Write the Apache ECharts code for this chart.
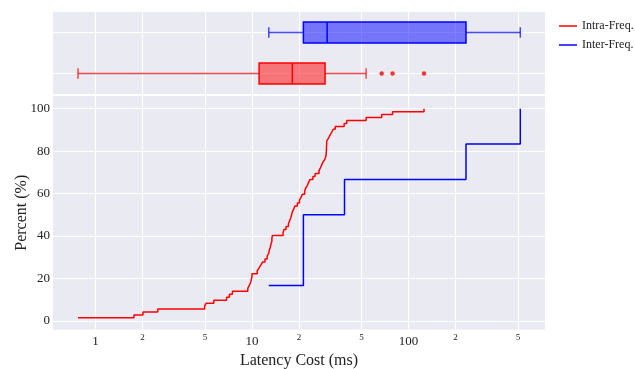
<!DOCTYPE html>
<html>
<head>
<meta charset="utf-8">
<script src="https://cdn.jsdelivr.net/npm/echarts@6/dist/echarts.min.js"></script>
<style>
    html, body {margin: 0; padding: 0; background: #fff;}
    #chart {width: 635px; height: 369px;}
</style>
</head>
<body>
<div id="chart"></div>
<script>
// latency samples (ms)
var intraSamples = [
    0.773, 1.76, 2.01, 2.5, 4.98, 5.1, 5.7, 6.88, 7.17, 7.5,
    9.4, 9.6, 9.8, 9.9, 10.0, 10.0, 10.8, 11.1, 11.4, 11.7,
    12.1, 12.5, 12.8, 12.9, 13.1, 13.2, 13.4, 13.4, 13.5, 15.8,
    16.0, 16.5, 17.1, 17.4, 17.7, 17.9, 18.1, 18.5, 18.8, 19.5,
    20.1, 20.6, 21.0, 21.7, 22.0, 22.6, 23.0, 23.5, 24.5, 25.3,
    26.8, 27.4, 27.9, 28.5, 29.3, 29.7, 29.8, 29.9, 29.9, 30.0,
    30.0, 30.8, 31.5, 32.3, 33.0, 34.0, 38.8, 40.3, 53.6, 67.4,
    79.1, 125.6
];
var interSamples = [12.8, 21.3, 21.3, 39.0, 233, 518];

// box stats: [row, min, q1, median, q3, max]
var boxIntra = [0, 0.773, 11.1, 18.1, 29.3, 53.6];
var boxInter = [1, 12.8, 21.3, 30.2, 233, 518];
var outliersIntra = [67.4, 79.1, 125.6];

var xTicks = [1, 2, 5, 10, 20, 50, 100, 200, 500];
var yTicks = [0, 20, 40, 60, 80, 100];

var RED = '#ff0000';
var BLUE = '#0000ff';
var BG = '#eaeaf2';
var FONT = 'Liberation Serif';

function ecdf(arr) {
    var s = arr.slice().sort(function (a, b) { return a - b; });
    var out = [];
    for (var i = 0; i < s.length; i++) {
        out.push([s[i], (i + 1) / s.length * 100]);
    }
    return out;
}

function renderBox(params, api) {
    var row = api.value(0);
    var col = params.dataIndex === 0 ? RED : BLUE;
    var fill = params.dataIndex === 0 ? 'rgba(255,0,0,0.5)' : 'rgba(0,0,255,0.5)';
    var pt = function (v, dy) { return api.coord([v, row + (dy || 0)]); };
    var lo = pt(api.value(1)), q1 = pt(api.value(2)), md = pt(api.value(3)),
        q3 = pt(api.value(4)), hi = pt(api.value(5));
    var h = Math.abs(pt(api.value(3), 0.255)[1] - pt(api.value(3), -0.255)[1]);
    var cy = lo[1];
    var st = {stroke: col, lineWidth: 1.5, opacity: 0.7};
    return {
        type: 'group',
        children: [
            {type: 'line', shape: {x1: lo[0], y1: cy, x2: q1[0], y2: cy}, style: st},
            {type: 'line', shape: {x1: q3[0], y1: cy, x2: hi[0], y2: cy}, style: st},
            {type: 'line', shape: {x1: lo[0], y1: cy - h / 4, x2: lo[0], y2: cy + h / 4}, style: st},
            {type: 'line', shape: {x1: hi[0], y1: cy - h / 4, x2: hi[0], y2: cy + h / 4}, style: st},
            {type: 'rect', shape: {x: q1[0], y: cy - h / 2, width: q3[0] - q1[0], height: h},
                style: {fill: fill, stroke: col, lineWidth: 1.5}},
            {type: 'line', shape: {x1: md[0], y1: cy - h / 2, x2: md[0], y2: cy + h / 2},
                style: {stroke: col, lineWidth: 1.5}}
        ]
    };
}

var chart = echarts.init(document.getElementById('chart'));

var xSplit = {show: true, lineStyle: {color: '#ffffff', width: 1}};

chart.setOption({
    backgroundColor: '#ffffff',
    animation: false,
    textStyle: {fontFamily: FONT},
    legend: {
        data: ['Intra-Freq.', 'Inter-Freq.'],
        orient: 'vertical',
        left: 554,
        top: 15,
        icon: 'rect',
        itemWidth: 18,
        itemHeight: 1.5,
        itemGap: 7,
        textStyle: {fontFamily: FONT, fontSize: 12, color: '#222'}
    },
    grid: [
        {left: 53, right: 90, top: 12, height: 82, outerBoundsMode: 'none',
            show: true, backgroundColor: BG, borderWidth: 0},
        {left: 53, right: 90, top: 96, bottom: 39.5, outerBoundsMode: 'none',
            show: true, backgroundColor: BG, borderWidth: 0}
    ],
    xAxis: [
        {
            gridIndex: 0, type: 'log', min: 0.535, max: 745,
            axisLine: {show: false},
            axisTick: {show: false, customValues: xTicks},
            axisLabel: {show: false},
            splitLine: xSplit
        },
        {
            gridIndex: 1, type: 'log', min: 0.535, max: 745,
            name: 'Latency Cost (ms)', nameLocation: 'middle', nameGap: 23,
            nameMoveOverlap: false,
            nameTextStyle: {fontFamily: FONT, fontSize: 16, color: '#222'},
            axisLine: {show: false},
            axisTick: {show: false, customValues: xTicks},
            axisLabel: {
                customValues: xTicks,
                margin: 3,
                formatter: function (v) {
                    var r = Math.round(v);
                    if (r === 1 || r === 10 || r === 100) return '{b|' + r + '}';
                    return '{s|' + String(r).charAt(0) + '}';
                },
                rich: {
                    b: {fontFamily: FONT, fontSize: 13, color: '#222', padding: [3, 0, 0, 0]},
                    s: {fontFamily: FONT, fontSize: 9, color: '#222', padding: [1, 0, 0, 0]}
                }
            },
            splitLine: xSplit
        }
    ],
    yAxis: [
        {
            gridIndex: 0, type: 'value', min: -0.5, max: 1.5,
            axisLine: {show: false},
            axisTick: {show: false, customValues: [0, 1]},
            axisLabel: {show: false},
            splitLine: {show: true, lineStyle: {color: '#ffffff', width: 1}}
        },
        {
            gridIndex: 1, type: 'value', min: -4.1, max: 106,
            name: 'Percent (%)', nameLocation: 'middle', nameGap: 23,
            nameMoveOverlap: false,
            nameTextStyle: {fontFamily: FONT, fontSize: 16, color: '#222'},
            axisLine: {show: false},
            axisTick: {show: false, customValues: yTicks},
            axisLabel: {customValues: yTicks, margin: 3, fontFamily: FONT, fontSize: 13, color: '#222'},
            splitLine: {show: true, lineStyle: {color: '#ffffff', width: 1}}
        }
    ],
    series: [
        {
            name: 'Intra-Freq.', type: 'line', xAxisIndex: 1, yAxisIndex: 1,
            step: 'end', showSymbol: false, color: RED,
            lineStyle: {width: 1.5, color: RED},
            data: ecdf(intraSamples)
        },
        {
            name: 'Inter-Freq.', type: 'line', xAxisIndex: 1, yAxisIndex: 1,
            step: 'end', showSymbol: false, color: BLUE,
            lineStyle: {width: 1.5, color: BLUE},
            data: ecdf(interSamples)
        },
        {
            name: 'boxes', type: 'custom', xAxisIndex: 0, yAxisIndex: 0,
            renderItem: renderBox,
            encode: {x: [1, 2, 3, 4, 5], y: 0},
            data: [boxIntra, boxInter]
        },
        {
            name: 'outliers', type: 'scatter', xAxisIndex: 0, yAxisIndex: 0,
            symbolSize: 4.5, itemStyle: {color: RED},
            data: outliersIntra.map(function (v) { return [v, boxIntra[0]]; })
        }
    ]
});
</script>
</body>
</html>
